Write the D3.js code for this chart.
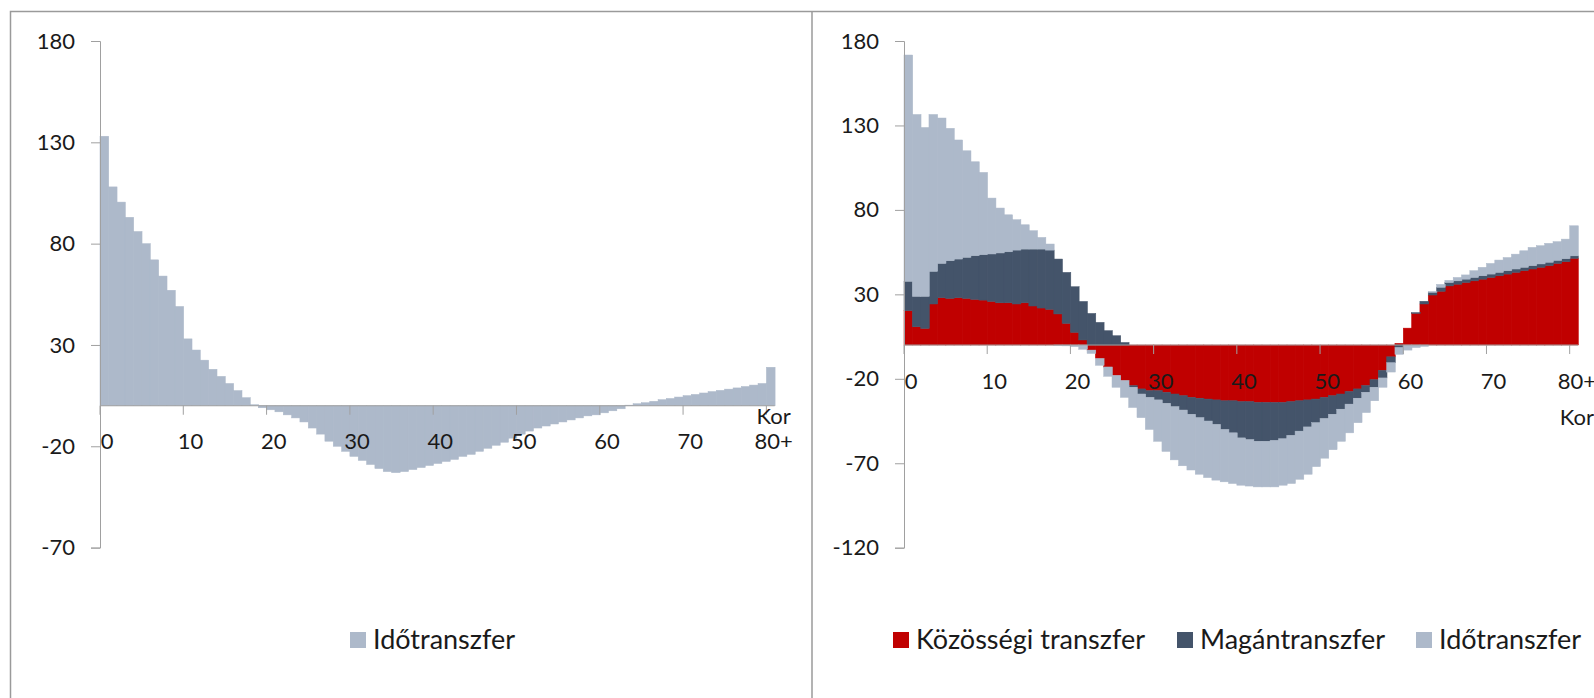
<!DOCTYPE html>
<html>
<head>
<meta charset="utf-8">
<script src="https://cdn.jsdelivr.net/npm/d3@7"></script>
<style>
  body { margin: 0; background: #fff; }
  svg { display: block; font-family: Lato, "Open Sans", sans-serif; }
</style>
</head>
<body>
<svg id="chart" width="1594" height="698"></svg>
<script>
// ages 0..80 (last one is 80+)
const ages = d3.range(0, 81);
const xTickAges = [0, 10, 20, 30, 40, 50, 60, 70, 80];
const xTickLabels = ["0", "10", "20", "30", "40", "50", "60", "70", "80+"];
const leftYTicks = [-70, -20, 30, 80, 130, 180];
const rightYTicks = [-120, -70, -20, 30, 80, 130, 180];

// left panel: Időtranszfer
const leftIdo = [
  133, 108, 100.5, 93, 86, 80, 72, 64, 57, 49,
  33, 27.5, 22.5, 18, 14.5, 11, 7.5, 4, 0.5, -1,
  -2, -3, -4.5, -6, -8, -11, -14, -17.5, -20, -22.5,
  -25, -27, -29, -31, -32.5, -33, -32.5, -31.5, -30.5, -29.5,
  -28.5, -27.5, -26.5, -25, -24, -22.5, -21, -19.5, -18, -16,
  -14, -12.5, -11, -10, -9, -8, -7, -6, -5, -4.5,
  -3.5, -2.5, -1.5, 0.3, 1, 1.5, 2.2, 3, 3.6, 4.3,
  5, 5.6, 6.3, 7, 7.6, 8.2, 8.8, 9.5, 10.2, 11,
  19
];

// right panel: three stacked series
const rightKozossegi = [
  20.3, 10.8, 9.8, 24.3, 28, 27.6, 28, 27.6, 27, 26.6,
  25.8, 25, 25, 24.3, 25, 23.1, 21.9, 21.1, 18.4, 12.8,
  7.5, 3, -3, -8, -13, -18, -21, -24, -26, -27,
  -27, -28, -29, -30, -31, -31.5, -32, -32.5, -33, -33,
  -33.5, -33.5, -34, -34, -34, -34, -33.5, -33, -32.5, -32,
  -31, -30, -29, -27.5, -26, -24, -20.5, -15, -7, 1,
  10, 18.7, 24.3, 29.6, 31.8, 35, 36, 37, 38, 39,
  40, 41, 42, 43, 44, 45, 46, 47, 48.3, 49.3,
  51.3
];
const rightMagan = [
  17.4, 18, 19, 19.3, 20.3, 22.3, 22.9, 24.3, 25.9, 26.9,
  28.1, 29.5, 30.2, 31.9, 31.8, 33.7, 34.9, 35.1, 32.5, 30.2,
  27, 22.8, 18.7, 13.4, 8.5, 5.5, 1.5, -1, -3, -4,
  -5.5, -6.5, -7.5, -8.5, -10, -11.5, -13, -14.5, -17, -19,
  -21.5, -22.5, -23, -23, -22.5, -21.5, -20, -18, -16, -14,
  -12.5, -11, -9, -7.5, -5.5, -4, -4.5, -4.5, -3.5, -1.5,
  0, 0.5, 1.6, 1.6, 2.4, 2, 2, 2, 2, 2,
  2, 2, 2, 2, 2, 2, 2, 2, 1.8, 1.8,
  1.5
];
const rightIdo = [
  134, 107.7, 100, 92.9, 86.1, 78.4, 70.5, 63.1, 55.6, 48.7,
  33.1, 26.6, 21.9, 18, 14.4, 10.9, 6.9, 3.6, -0.3, -0.5,
  -1, -2.5, -2, -4, -5.5, -7, -10, -12, -14, -19,
  -24.5, -28.5, -31.5, -33, -33, -33.5, -33.5, -33, -31, -30,
  -28, -27.5, -27, -27, -27.5, -27.5, -28.5, -28.5, -28, -26,
  -23.5, -21, -19, -17, -14.5, -12, -8, -5.5, -5.5, -4,
  -3, -1.5, -0.8, 0.5, 1.7, 1.3, 2, 2.5, 4, 5,
  6.3, 7.3, 7.8, 8.8, 9.8, 10.8, 10.8, 11.2, 11.1, 11.6,
  17.8
];

const seriesNames = ["Közösségi transzfer", "Magántranszfer", "Időtranszfer"];
const seriesColors = ["#c00000", "#44546a", "#adb9ca"];

const axisColor = "#a0a0a0";
const textColor = "#1a1a1a";

const svg = d3.select("#chart");

// frame lines
svg.append("path")
  .attr("d", "M10.5,698 V11.5 H1594 M812,11.5 V698")
  .attr("fill", "none")
  .attr("stroke", "#9a9a9a")
  .attr("stroke-width", 1.5);

function drawAxes(g, x, y, yTicks, korBelow) {
  const x0 = x.range()[0];
  const y0 = y(0);
  const bw = x.bandwidth();

  // y axis
  const yAxis = d3.axisLeft(y).tickValues(yTicks).tickSize(9).tickPadding(16)
    .tickFormat(d => String(d));
  const ya = g.append("g").attr("transform", `translate(${x0},0)`).call(yAxis);
  ya.select(".domain").attr("stroke", axisColor);
  ya.selectAll(".tick line").attr("stroke", axisColor);
  ya.selectAll(".tick text").attr("fill", textColor)
    .style("font-size", "22px").style("font-family", "Lato, 'Open Sans', sans-serif");

  // x axis at zero
  g.append("line")
    .attr("x1", x0).attr("x2", x.range()[1])
    .attr("y1", y0).attr("y2", y0)
    .attr("stroke", axisColor);
  g.selectAll(".xtick").data(xTickAges).join("line")
    .attr("x1", d => x(d)).attr("x2", d => x(d))
    .attr("y1", y0).attr("y2", y0 + 9)
    .attr("stroke", axisColor);
  g.selectAll(".xlab").data(xTickAges).join("text")
    .attr("x", d => x(d) + bw / 2 + 3)
    .attr("y", y0 + 36)
    .attr("dy", "0.35em")
    .attr("text-anchor", "middle")
    .attr("fill", textColor)
    .style("font-size", "22px")
    .text((d, i) => xTickLabels[i]);

  const xEnd = x.range()[1];
  g.append("text")
    .attr("x", xEnd + 16)
    .attr("y", korBelow ? y0 + 72 : y0 + 11)
    .attr("dy", "0.35em")
    .attr("text-anchor", "end")
    .attr("fill", textColor)
    .style("font-size", "22px")
    .text("Kor");
}

// ---------- left panel ----------
{
  const x = d3.scaleBand().domain(ages).range([100, 774.7]).padding(0);
  const y = d3.scaleLinear().domain([-70, 180]).range([547.6, 41]);
  const g = svg.append("g");

  g.selectAll("rect").data(leftIdo).join("rect")
    .attr("x", (d, i) => x(ages[i]))
    .attr("width", x.bandwidth() + 0.4)
    .attr("y", d => y(Math.max(0, d)))
    .attr("height", d => Math.abs(y(d) - y(0)))
    .attr("fill", seriesColors[2])
    .attr("stroke", seriesColors[2])
    .attr("stroke-width", 0.5);

  drawAxes(g, x, y, leftYTicks, false);

  // legend
  const lg = g.append("g").attr("transform", "translate(350,640)");
  lg.append("rect").attr("x", 0).attr("y", -8).attr("width", 16).attr("height", 16)
    .attr("fill", seriesColors[2]);
  lg.append("text").attr("x", 23).attr("dy", "0.35em")
    .attr("fill", textColor).style("font-size", "27px").text(seriesNames[2]);
}

// ---------- right panel ----------
{
  const x = d3.scaleBand().domain(ages).range([904, 1578]).padding(0);
  const y = d3.scaleLinear().domain([-120, 180]).range([547.7, 41]);
  const g = svg.append("g");

  const table = ages.map((a, i) => ({
    age: a,
    kozossegi: rightKozossegi[i],
    magan: rightMagan[i],
    ido: rightIdo[i]
  }));
  const keys = ["kozossegi", "magan", "ido"];
  const stacked = d3.stack().keys(keys).offset(d3.stackOffsetDiverging)(table);

  g.selectAll("g.series").data(stacked).join("g")
    .attr("class", "series")
    .attr("fill", (d, i) => seriesColors[i])
    .attr("stroke", (d, i) => seriesColors[i])
    .attr("stroke-width", 0.5)
    .selectAll("rect").data(d => d.filter(s => s[1] !== s[0])).join("rect")
    .attr("x", d => x(d.data.age))
    .attr("width", x.bandwidth() + 0.4)
    .attr("y", d => y(Math.max(d[0], d[1])))
    .attr("height", d => Math.abs(y(d[0]) - y(d[1])));

  drawAxes(g, x, y, rightYTicks, true);

  // legend
  const legendX = [893, 1177, 1416];
  const lg = g.append("g").attr("transform", "translate(0,640)");
  const items = lg.selectAll("g").data(seriesNames).join("g")
    .attr("transform", (d, i) => `translate(${legendX[i]},0)`);
  items.append("rect").attr("x", 0).attr("y", -8).attr("width", 16).attr("height", 16)
    .attr("fill", (d, i) => seriesColors[i]);
  items.append("text").attr("x", 23).attr("dy", "0.35em")
    .attr("fill", textColor).style("font-size", "27px").text(d => d);
}
</script>
</body>
</html>
